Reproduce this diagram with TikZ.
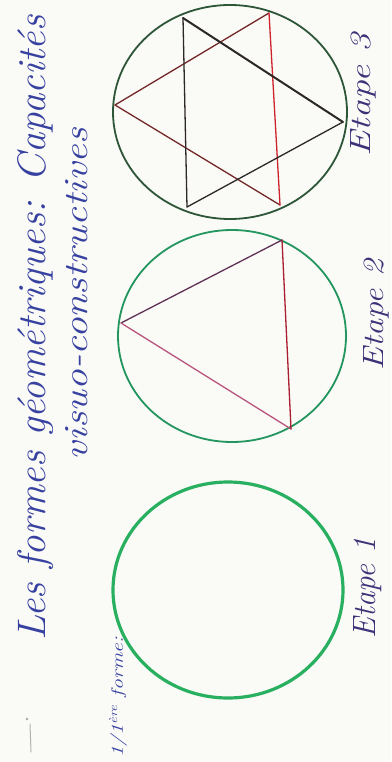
\documentclass[tikz,border=0pt]{standalone}
\usepackage{graphicx}
\definecolor{paper}{RGB}{250,250,247}
\definecolor{ink}{RGB}{55,65,160}
\definecolor{inkdark}{RGB}{60,50,120}
\definecolor{greenA}{RGB}{40,175,95}
\definecolor{greenB}{RGB}{35,150,95}
\definecolor{greenC}{RGB}{45,85,55}
\definecolor{purpleE}{RGB}{95,50,85}
\definecolor{mauveE}{RGB}{185,85,125}
\definecolor{redE}{RGB}{170,30,50}
\definecolor{brownE}{RGB}{115,40,40}
\definecolor{redS}{RGB}{205,35,45}
\definecolor{blackS}{RGB}{45,40,40}
\tikzset{
  handtext/.style={text=ink, inner sep=0pt, rotate=90, font=\itshape},
  labeltext/.style={text=inkdark, inner sep=0pt, rotate=90, font=\itshape},
  pencil/.style={line width=1.3pt, line cap=round, line join=round},
}
\newcommand{\fitbox}[3]{\resizebox{#1}{#2}{#3}}
\begin{document}
\begin{tikzpicture}[x=1pt,y=-1pt]
\useasboundingbox[fill=paper] (0,0) rectangle (391,762);

% titles
\node[handtext, anchor=center] (title1) at (36,328)
  {\fitbox{625pt}{28pt}{\fontsize{40}{44}\selectfont Les formes géométriques: Capacités}};
\node[handtext, anchor=center] (title2) at (77,294)
  {\fitbox{332pt}{22pt}{\fontsize{36}{40}\selectfont visuo-constructives}};
\node[handtext, anchor=center] (first) at (118,697)
  {\fitbox{120pt}{14pt}{\fontsize{18}{20}\selectfont 1/1\textsuperscript{ère} forme:}};

% small mark at bottom left
\draw[gray!60, line width=1pt, line cap=round] (30,724) -- (31,752);
\fill[gray!70] (27,719) circle (1.3);

% Etape 1
\draw[greenA, line width=3.2pt] (228,590) ellipse [x radius=115, y radius=108];
\node[labeltext] (e1) at (368,588) {\fitbox{100pt}{22pt}{\fontsize{28}{30}\selectfont Etape 1}};

% Etape 2
\draw[greenB, line width=1.8pt] (232,336) ellipse [x radius=114, y radius=106];
\coordinate (tL) at (121,323);
\coordinate (tT) at (282,240);
\coordinate (tB) at (291,429);
\draw[pencil, purpleE] (tL) -- (tT);
\draw[pencil, mauveE] (tL) -- (tB);
\draw[pencil, redE] (tT) -- (tB);
\node[labeltext] (e2) at (376,315) {\fitbox{110pt}{20pt}{\fontsize{28}{30}\selectfont Etape 2}};

% Etape 3
\draw[greenC, line width=1.8pt] (230,112) ellipse [x radius=117, y radius=107];
\coordinate (aL) at (115,105);
\coordinate (aT) at (269,13);
\coordinate (aB) at (280,205);
\coordinate (bTL) at (183,18);
\coordinate (bR) at (343,122);
\coordinate (bBL) at (187,207);
\draw[pencil, brownE] (aL) -- (aT);
\draw[pencil, brownE] (aL) -- (aB);
\draw[pencil, redS] (aT) -- (aB);
\draw[pencil, blackS] (bTL) -- (bBL);
\draw[pencil, blackS, line width=2pt] (bTL) -- (bR);
\draw[pencil, blackS] (bR) -- (bBL);
\node[labeltext] (e3) at (363,95) {\fitbox{122pt}{20pt}{\fontsize{28}{30}\selectfont Etape 3}};
\end{tikzpicture}
\end{document}
